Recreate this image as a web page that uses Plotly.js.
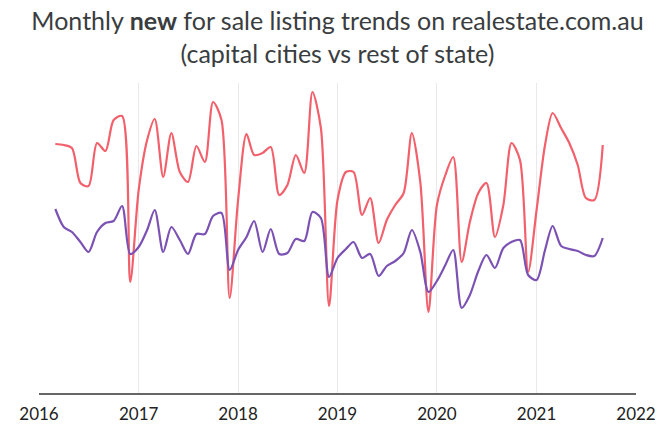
<!DOCTYPE html>
<html>
<head>
<meta charset="utf-8">
<script src="https://cdn.plot.ly/plotly-3.0.1.min.js"></script>
<style>html,body{margin:0;padding:0;background:#fff;}#chart{width:660px;height:433px;}</style>
</head>
<body>
<div id="chart"></div>
<script>
const months = [
  '2016-03-01','2016-04-01','2016-05-01','2016-06-01','2016-07-01','2016-08-01','2016-09-01','2016-10-01','2016-11-01','2016-12-01',
  '2017-01-01','2017-02-01','2017-03-01','2017-04-01','2017-05-01','2017-06-01','2017-07-01','2017-08-01','2017-09-01','2017-10-01','2017-11-01','2017-12-01',
  '2018-01-01','2018-02-01','2018-03-01','2018-04-01','2018-05-01','2018-06-01','2018-07-01','2018-08-01','2018-09-01','2018-10-01','2018-11-01','2018-12-01',
  '2019-01-01','2019-02-01','2019-03-01','2019-04-01','2019-05-01','2019-06-01','2019-07-01','2019-08-01','2019-09-01','2019-10-01','2019-11-01','2019-12-01',
  '2020-01-01','2020-02-01','2020-03-01','2020-04-01','2020-05-01','2020-06-01','2020-07-01','2020-08-01','2020-09-01','2020-10-01','2020-11-01','2020-12-01',
  '2021-01-01','2021-02-01','2021-03-01','2021-04-01','2021-05-01','2021-06-01','2021-07-01','2021-08-01','2021-09-01'
];
const capitalCities = [
  249,248,245,210,207,250,242,273,277,111,
  203,253,274,216,260,221,211,247,231,291,273,95,
  193,259,238,240,246,198,208,238,220,301,265,87,
  193,221,221,178,195,150,173,188,200,260,211,81,
  188,218,236,131,171,200,210,156,188,250,233,121,
  183,248,280,265,250,228,195,193,248
];
const restOfState = [
  184,166,161,151,141,161,170,172,187,139,
  146,163,183,141,166,153,139,159,159,177,180,123,
  143,156,172,141,164,139,140,154,152,181,175,116,
  135,144,151,135,139,117,127,132,140,163,141,101,
  112,128,143,85,98,122,138,125,145,151,153,118,
  113,143,167,147,144,142,138,137,155
];
const tickVals = ['2016-01-01','2017-01-01','2018-01-01','2019-01-01','2020-01-01','2021-01-01','2022-01-01'];
const tickText = ['2016','2017','2018','2019','2020','2021','2022'];

const traces = [
  {x: months, y: capitalCities, name: 'Capital cities', type: 'scatter', mode: 'lines',
   line: {color: '#f2606c', width: 2.2, shape: 'spline', smoothing: 0.8}},
  {x: months, y: restOfState, name: 'Rest of state', type: 'scatter', mode: 'lines',
   line: {color: '#7b52b4', width: 2.2, shape: 'spline', smoothing: 0.8}}
];
const layout = {
  width: 660, height: 433,
  margin: {l: 39, r: 24, t: 83, b: 40},
  paper_bgcolor: '#fff', plot_bgcolor: '#fff',
  showlegend: false,
  font: {family: 'Lato, sans-serif', color: '#222'},
  title: {
    text: 'Monthly <b>new</b> for sale listing trends on realestate.com.au<br>(capital cities vs rest of state)',
    font: {family: 'Lato, sans-serif', size: 25, color: '#3a3d40'},
    x: 0.5, xanchor: 'center', xref: 'paper',
    y: 0.93, yanchor: 'middle', yref: 'container'
  },
  xaxis: {
    type: 'date', range: ['2016-01-01', '2022-01-01'],
    tickvals: tickVals, ticktext: tickText,
    showgrid: true, gridcolor: '#e9e9e9', gridwidth: 1,
    showline: true, linecolor: '#666', linewidth: 1.5,
    ticks: '', ticklen: 0, ticklabelstandoff: 5,
    tickfont: {family: 'Lato, sans-serif', size: 17, color: '#222'},
    zeroline: false, fixedrange: true
  },
  yaxis: {
    range: [0, 310], showgrid: false, showticklabels: false,
    zeroline: false, showline: false, ticks: '', fixedrange: true
  }
};
Plotly.newPlot('chart', traces, layout, {displayModeBar: false, staticPlot: true});
</script>
</body>
</html>
